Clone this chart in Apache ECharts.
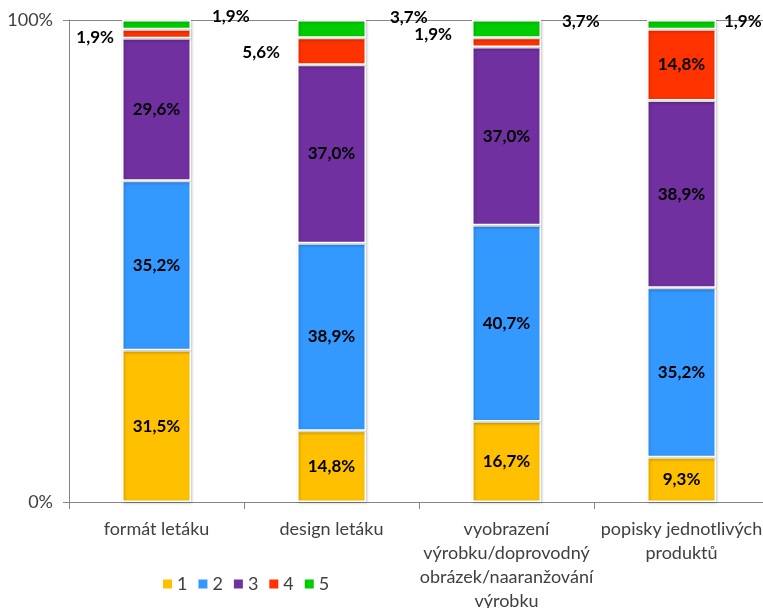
<!DOCTYPE html>
<html>
<head>
<meta charset="utf-8">
<script src="https://cdn.jsdelivr.net/npm/echarts@6/dist/echarts.min.js"></script>
<style>html,body{margin:0;padding:0;background:#fff;}#c{width:763px;height:608px;}</style>
</head>
<body>
<div id="c"></div>
<script>
const categories = ['formát letáku', 'design letáku', 'vyobrazení\nvýrobku/doprovodný\nobrázek/naaranžování\nvýrobku', 'popisky jednotlivých\nproduktů'];
const seriesNames = ['1', '2', '3', '4', '5'];
const s1 = [31.5, 14.8, 16.7, 9.3];
const s2 = [35.2, 38.9, 40.7, 35.2];
const s3 = [29.6, 37.0, 37.0, 38.9];
const s4 = [1.9, 5.6, 1.9, 14.8];
const s5 = [1.9, 3.7, 3.7, 1.9];
const yTicks = [0, 100];

const colors = ['#FFC000', '#3399FF', '#7030A0', '#FF3300', '#00CC00'];
const all = [s1, s2, s3, s4, s5];
const totals = categories.map((_, i) => all.reduce((a, s) => a + s[i], 0));
const fmt = v => v.toFixed(1).replace('.', ',') + '%';
const FONT = 'Lato';

// outside label placement for small segments
const outside = {
  3: { 0: { position: 'left', distance: 8, offset: [0, 4] },
       1: { position: 'left', distance: 17, offset: [0, 1] },
       2: { position: 'left', distance: 20, offset: [0, -8] } },
  4: { 0: { position: 'right', distance: 21, offset: [0, -8] },
       1: { position: 'right', distance: 24, offset: [0, -11] },
       2: { position: 'right', distance: 21, offset: [0, -7] },
       3: { position: 'right', distance: 8, offset: [0, -3] } }
};

const series = all.map((arr, si) => ({
  name: seriesNames[si],
  type: 'bar',
  stack: 'total',
  barWidth: 69,
  itemStyle: { color: colors[si], borderColor: '#ffffff', borderWidth: 1.5,
    shadowBlur: 3, shadowColor: 'rgba(0,0,0,0.25)', shadowOffsetX: 1, shadowOffsetY: 1 },
  label: { show: true, position: 'inside', color: '#000', fontFamily: FONT, fontWeight: 'bold', fontSize: 17,
    formatter: p => fmt(arr[p.dataIndex]) },
  data: arr.map((v, i) => {
    const d = { value: v / totals[i] * 100 };
    if (outside[si] && outside[si][i]) d.label = Object.assign({ show: true }, outside[si][i]);
    return d;
  })
}));

const chart = echarts.init(document.getElementById('c'), null, { renderer: 'canvas' });
chart.setOption({
  animation: false,
  color: colors,
  grid: { left: 69, top: 20, bottom: 106, width: 700, containLabel: false, outerBoundsMode: 'none' },
  legend: {
    data: seriesNames, left: 156, top: 570, itemWidth: 11, itemHeight: 11, itemGap: 9,
    icon: 'rect', textStyle: { fontFamily: FONT, fontSize: 18, color: '#404040', padding: [0, 0, 0, -1] }
  },
  xAxis: {
    type: 'category', data: categories,
    axisLine: { lineStyle: { color: '#868686', width: 1 } },
    axisTick: { show: true, length: 7, lineStyle: { color: '#868686' } },
    axisLabel: { fontFamily: FONT, fontSize: 18, color: '#404040', margin: 15, lineHeight: 24, interval: 0 }
  },
  yAxis: {
    type: 'value', min: yTicks[0], max: yTicks[1], interval: 100,
    axisLine: { show: true, lineStyle: { color: '#868686' } },
    axisTick: { show: true, length: 6, lineStyle: { color: '#868686' } },
    splitLine: { show: true, lineStyle: { color: '#868686' } },
    axisLabel: { fontFamily: FONT, fontSize: 18, color: '#404040', margin: 16, formatter: '{value}%' }
  },
  series: series
});
</script>
</body>
</html>
